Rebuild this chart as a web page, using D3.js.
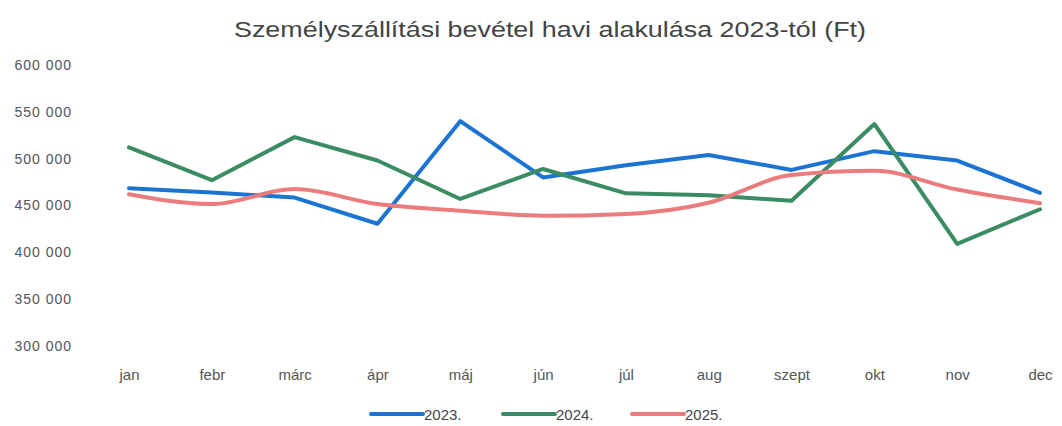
<!DOCTYPE html>
<html><head><meta charset="utf-8">
<script src="https://cdn.jsdelivr.net/npm/d3@7"></script>
<style>body{margin:0;background:#fff}svg{display:block}text{font-family:"Liberation Sans",Arial,sans-serif}</style>
</head><body><svg id="c" width="1062" height="426"></svg>
<script>
const title = "Személyszállítási bevétel havi alakulása 2023-tól (Ft)";
const months = ["jan","febr","márc","ápr","máj","jún","júl","aug","szept","okt","nov","dec"];
const yTicks = [300000,350000,400000,450000,500000,550000,600000];
const seriesNames = ["2023.","2024.","2025."];
const v2023 = [468500,464000,458500,430500,540000,480000,493000,504000,488000,508000,498000,463500];
const v2024 = [512000,477000,523000,498000,457000,489000,463000,461000,455000,537000,409000,446000];
const v2025 = [462000,451500,467500,451500,444500,439000,441000,453000,482500,487000,467000,452500];
const colors = ["#1b74d2","#3b8c63","#eb7b7c"];

const svg = d3.select("#c");
const x = d3.scalePoint().domain(months).range([129,1040]);
const y = d3.scaleLinear().domain([300000,600000]).range([346,65]);

svg.append("text").attr("x",550).attr("y",37).attr("text-anchor","middle")
  .attr("font-size",22).attr("fill","#444").attr("textLength",632).attr("lengthAdjust","spacingAndGlyphs").text(title);

const fmt = v => d3.format(",")(v).replace(/,/g," ");
const ya = svg.append("g").attr("transform","translate(72,0)")
  .call(d3.axisLeft(y).tickValues(yTicks).tickFormat(fmt).tickSize(0).tickPadding(0));
ya.select(".domain").remove();
ya.selectAll("text").attr("font-size",14).attr("fill","#555").attr("letter-spacing","1px").attr("font-family","Liberation Sans, Arial, sans-serif");

const xa = svg.append("g").attr("transform","translate(0,369)")
  .call(d3.axisBottom(x).tickSize(0).tickPadding(0));
xa.select(".domain").remove();
xa.selectAll("text").attr("font-size",15).attr("fill","#555").attr("font-family","Liberation Sans, Arial, sans-serif");

const data = [v2023,v2024,v2025];
const curves = [d3.curveLinear, d3.curveLinear, d3.curveMonotoneX];
data.forEach((vals,i)=>{
  const line = d3.line().x((d,j)=>x(months[j])).y(d=>y(d)).curve(curves[i]);
  svg.append("path").datum(vals).attr("d",line).attr("fill","none")
    .attr("stroke",colors[i]).attr("stroke-width",4).attr("stroke-linejoin","round").attr("stroke-linecap","round");
});

const legX = [371,503,632];
seriesNames.forEach((n,i)=>{
  svg.append("line").attr("x1",legX[i]).attr("x2",legX[i]+52).attr("y1",414).attr("y2",414)
    .attr("stroke",colors[i]).attr("stroke-width",4).attr("stroke-linecap","round");
  svg.append("text").attr("x",legX[i]+53).attr("y",420).attr("font-size",15).attr("fill","#444").text(n);
});
</script></body></html>
